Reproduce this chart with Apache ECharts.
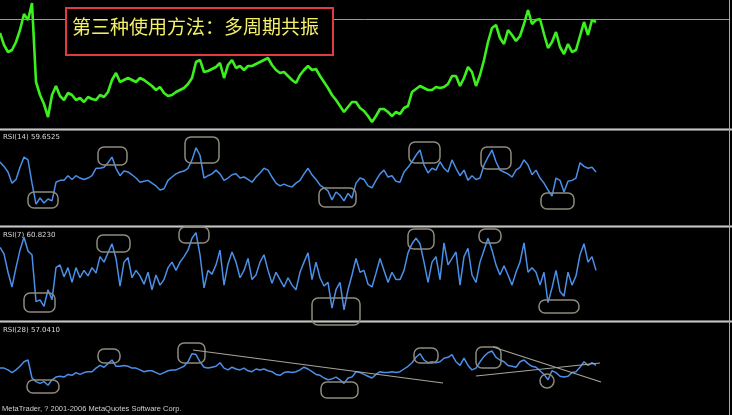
<!DOCTYPE html>
<html><head><meta charset="utf-8">
<script src="https://cdn.jsdelivr.net/npm/echarts/dist/echarts.min.js"></script>
<style>html,body{margin:0;padding:0;background:#000;overflow:hidden}#c{width:732px;height:415px}</style>
</head><body><div id="c"></div>
<script>
// Price (arbitrary price units, one value per 4 bars-group)
const price = [
95,83,76,78,86,98,114,108,125,46,
33,24,11,33,42,32,28,35,33,28,
30,26,31,29,28,33,31,36,48,55,
46,48,50,48,46,50,48,45,42,38,
41,35,32,33,36,38,40,44,50,66,
68,56,57,59,61,65,50,63,68,60,
62,58,62,62,64,66,68,70,63,58,
55,56,52,48,45,53,58,62,58,59,
52,46,40,33,28,22,16,21,26,26,
20,17,12,6,12,19,19,16,12,16,
14,20,22,36,39,42,40,38,38,41,
40,41,44,52,52,42,50,61,56,42,
53,68,86,100,103,90,84,98,93,87,
92,104,118,104,108,109,94,80,86,96,
81,74,84,76,78,92,106,93,108,106
];
const bidPrice = 109;
const rsi14 = [
67.7,63,57,45,49,62,73,70,45,22.5,
29,23.7,28,26,46,48,48,53,49,53,
50.5,49,50.5,53,61,61,62,67,73,61,
53,58,57,54,50.5,46,47,48,45,42,
37.6,39,48,51.6,55,57,58,61,70,83,
75,50.5,53,55,59,55,48,50.5,54,55,
50.5,51.6,49,46,51.6,56,61,59,51.6,45,
42,44,42,41,45,48,55,61,54,49,
43,40,36.6,27,35.5,32,26,34,29,45,
50.5,49,42,40,48,55,59,51.6,53,47,
46,57,62,68,75,80.6,64.5,56,61,59,
68,61,57,70,61,53,59,48,53,49,
50.5,64.5,73,80.6,68,59,57,55,51.6,59,
62,70,64.5,54,59,50.5,45,37.6,31,50.5,
48,35.5,47,48,50.5,67,63,61,62,57
];
const rsi7 = [
80,73,53,37,58,77,91,76,72,21,
23,16,34,23,58,61,48,58,42,58,
47,55,49,58,52,70,64,74,84,68,
38,64,69,47,55,49,40,53,34,50,
39,45,58,64,55,64,70,77,90,96,
72,36,55,51,61,77,39,62,75,64,
47,55,68,45,50,64,72,55,41,53,
45,37,47,39,34,53,64,74,45,64,
47,38,42,14,34,42,12,34,50,68,
53,55,40,37,52,68,55,42,53,45,
45,55,74,84,90,84,64,42,64,70,
45,85,61,68,75,39,70,79,50,42,
64,77,90,77,61,50,60,50,39,53,
64,85,53,58,53,39,53,20,36,55,
32,27,53,39,49,72,84,64,70,55
];
const rsi28 = [
51,51,49,46,49,53,58,60,40,36,
34,36,32,38,41,42,41,44,43,46,
44,46,47,47,51,54,52,56,60,53,
53,54,53,51,51,49,47,48,48,46,
44,46,48,49,49,51,53,58,67,66,
58,52,51,52,53,57,51,49,52,50,
49,51,48,47,50,49,50,48,47,44,
43,46,47,46,47,49,52,50,47,44,
43,40,38,39,41,38,34,40,41,47,
46,44,42,40,44,47,46,46,47,46,
47,50,53,57,63,67,60,57,58,57,
58,62,63,66,58,54,62,54,49,51,
58,64,68,70,63,60,58,54,53,52,
58,60,56,53,52,48,44,38,48,46,
42,41,42,46,47,52,58,54,57,54
];
const panelLabels = ['RSI(14) 59.6525', 'RSI(7) 60.8230', 'RSI(28) 57.0410'];
const titleText = '第三种使用方法：多周期共振';
const footerText = 'MetaTrader, ? 2001-2006 MetaQuotes Software Corp.';

const toXY = arr => arr.map((v, i) => [i, v]);
const X_MAX = 182.25;

const grids = [
  {left: 0, right: 3, top: 0, height: 128},
  {left: 0, right: 3, top: 132, height: 93},
  {left: 0, right: 3, top: 229, height: 92},
  {left: 0, right: 3, top: 324, height: 90}
];
const xAxes = grids.map((g, i) => ({type: 'value', gridIndex: i, min: 0, max: X_MAX, show: false}));
const yAxes = [
  {type: 'value', gridIndex: 0, min: 0, max: 128, show: false},
  {type: 'value', gridIndex: 1, min: 0, max: 100, show: false},
  {type: 'value', gridIndex: 2, min: 0, max: 100, show: false},
  {type: 'value', gridIndex: 3, min: 0, max: 100, show: false}
];
const blue = '#4a8fe8';
const series = [
  {type: 'line', xAxisIndex: 0, yAxisIndex: 0, data: toXY(price), symbol: 'none',
   lineStyle: {color: '#3cf01e', width: 2.6}, z: 3,
   markLine: {silent: true, symbol: 'none', label: {show: false},
     lineStyle: {color: '#9a9a9a', width: 1, type: 'solid'}, data: [{yAxis: bidPrice}]}},
  {type: 'line', xAxisIndex: 1, yAxisIndex: 1, data: toXY(rsi14), symbol: 'none', lineStyle: {color: blue, width: 1.5}},
  {type: 'line', xAxisIndex: 2, yAxisIndex: 2, data: toXY(rsi7), symbol: 'none', lineStyle: {color: blue, width: 1.5}},
  {type: 'line', xAxisIndex: 3, yAxisIndex: 3, data: toXY(rsi28), symbol: 'none', lineStyle: {color: blue, width: 1.5}}
];

const boxStroke = '#8e8a7c';
const boxes = [
  [28,192,30,16],[98,147,29,18],[185,137,34,26],[319,188,37,19],[409,142,31,21],[481,147,30,22],[541,193,33,16],
  [24,293,31,19],[97,235,33,17],[179,227,30,16],[312,298,48,27],[408,229,26,20],[479,229,22,14],[539,300,40,13],
  [27,380,32,13],[98,349,22,14],[178,343,27,20],[321,382,37,16],[414,348,24,15],[476,347,25,21]
];
const trend = [[193,350,443,383],[476,376,600,363],[493,347,601,382]];

const graphics = [];
[128, 225, 320].forEach(y => {
  graphics.push({type: 'rect', z: 50, shape: {x: 0, y: y, width: 732, height: 3}, style: {fill: '#6e6e6e'}});
  graphics.push({type: 'line', z: 51, shape: {x1: 0, y1: y + 1.5, x2: 732, y2: y + 1.5}, style: {stroke: '#c4c4c4', lineWidth: 1}});
});
graphics.push({type: 'line', z: 51, shape: {x1: 729.5, y1: 0, x2: 729.5, y2: 415}, style: {stroke: '#a8a8a8', lineWidth: 1}});
boxes.forEach(b => graphics.push({type: 'rect', z: 60, shape: {x: b[0], y: b[1], width: b[2], height: b[3], r: 6},
  style: {fill: 'none', stroke: boxStroke, lineWidth: 1.5}}));
graphics.push({type: 'circle', z: 60, shape: {cx: 547, cy: 381, r: 7}, style: {fill: 'none', stroke: boxStroke, lineWidth: 1.5}});
trend.forEach(t => graphics.push({type: 'line', z: 60, shape: {x1: t[0], y1: t[1], x2: t[2], y2: t[3]},
  style: {stroke: '#a8a498', lineWidth: 1.2}}));
graphics.push({type: 'rect', z: 70, shape: {x: 66, y: 8, width: 267, height: 47}, style: {fill: '#000', stroke: '#e23a3e', lineWidth: 2}});
graphics.push({type: 'text', z: 71, x: 72, y: 27, style: {text: titleText, fill: '#f4f06a',
  font: '19px "Noto Sans CJK SC"', textVerticalAlign: 'middle', verticalAlign: 'middle'}});
[137, 235, 330].forEach((y, i) => graphics.push({type: 'text', z: 70, x: 3, y: y, style: {text: panelLabels[i],
  fill: '#d8d8d8', font: '7px "DejaVu Sans"', verticalAlign: 'middle', textVerticalAlign: 'middle'}}));
graphics.push({type: 'text', z: 70, x: 2, y: 409, style: {text: footerText, fill: '#d0d0d0',
  font: '7.5px "Liberation Sans"', verticalAlign: 'middle', textVerticalAlign: 'middle'}});

const chart = echarts.init(document.getElementById('c'), null, {renderer: 'canvas'});
chart.setOption({
  backgroundColor: '#000',
  animation: false,
  grid: grids, xAxis: xAxes, yAxis: yAxes, series: series,
  graphic: graphics
});
</script></body></html>
